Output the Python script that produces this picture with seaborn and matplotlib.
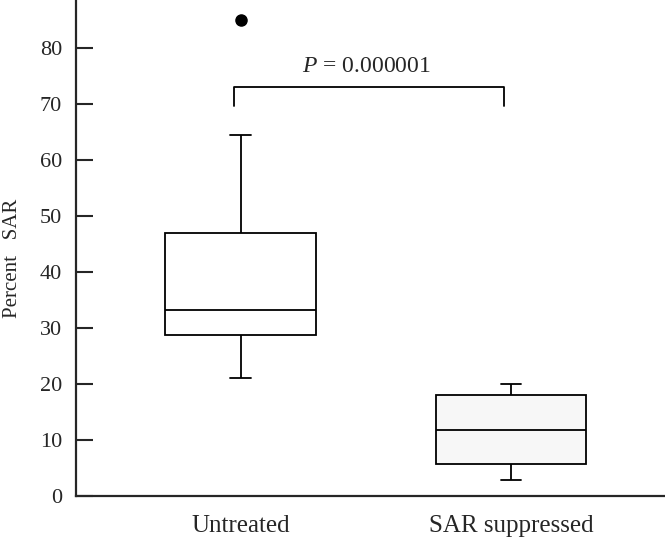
import seaborn as sns
import matplotlib
matplotlib.use('Agg')
import matplotlib.pyplot as plt
import pandas as pd

untreated = [21.1, 25.0, 28.8, 31.0, 33.2, 40.0, 46.9, 64.5, 85.0]
sar_suppressed = [2.9, 4.5, 5.7, 9.0, 11.7, 15.0, 18.1, 19.0, 20.0]
groups = ['Untreated', 'SAR suppressed']
box_colors = ['white', '#f7f7f7']
p_text = '0.000001'

fd = pd.DataFrame({
    'group': [groups[0]] * len(untreated) + [groups[1]] * len(sar_suppressed),
    'sar': untreated + sar_suppressed,
})

sns.set_style('ticks')
plt.rcParams['font.family'] = ['Liberation Serif', 'DejaVu Serif']
plt.rcParams['mathtext.fontset'] = 'custom'
plt.rcParams['mathtext.rm'] = 'Liberation Serif'
plt.rcParams['mathtext.it'] = 'Liberation Serif:italic'

fig = plt.figure(figsize=(6.65, 5.39), dpi=100)
ax = fig.add_axes([0.1143, 0.0798, 0.8857, 0.9202])

sns.boxplot(data=fd, x='group', y='sar', hue='group', order=groups,
            palette=dict(zip(groups, box_colors)), legend=False,
            saturation=1, width=0.555, linecolor='black', linewidth=1.3,
            capwidths=0.074,
            flierprops=dict(marker='o', markerfacecolor='black',
                            markeredgecolor='black', markersize=8),
            ax=ax)

# significance bracket
bx = [-0.025, -0.025, 0.974, 0.974]
by = [69.6, 73.0, 73.0, 69.6]
ax.plot(bx, by, color='black', lw=1.3)
ax.text(0.467, 75.6, '$P$ = ' + p_text, ha='center', va='baseline', fontsize=17)

ax.set_xlim(-0.608, 1.569)
ax.set_ylim(0, 88.5)
ax.set_yticks(range(0, 81, 10))
sns.despine(ax=ax)
for s in ['left', 'bottom']:
    ax.spines[s].set_linewidth(1.6)
ax.tick_params(axis='y', direction='in', length=12, width=1.5, pad=10, labelsize=16)
ax.tick_params(axis='x', length=0, pad=14, labelsize=18)

ax.set_xlabel('')
ax.set_ylabel('Percent   SAR', fontsize=15)
ax.yaxis.set_label_coords(-0.092, 0.48)

plt.savefig('out.png', dpi=100)
